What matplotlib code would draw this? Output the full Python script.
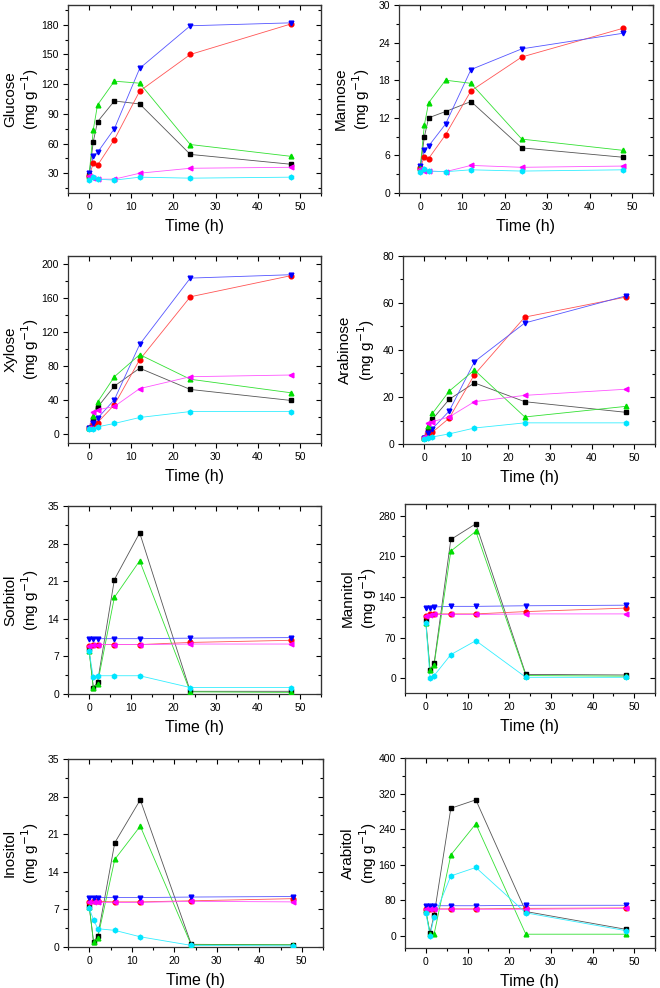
import numpy as np
import matplotlib
matplotlib.use('Agg')
import matplotlib.pyplot as plt
from matplotlib.ticker import MultipleLocator

plt.rcParams['font.family'] = ['Liberation Sans', 'DejaVu Sans']

time_h = [0, 1, 2, 6, 12, 24, 48]

# series order: black sq, red circle, blue down-tri, green up-tri, magenta left-tri, cyan hexagon
glucose = [
    [28, 62, 82, 103, 100, 49, 39],
    [27, 40, 38, 64, 113, 150, 181],
    [30, 47, 51, 75, 136, 179, 182],
    [27, 74, 99, 123, 121, 59, 47],
    [27, 25, 24, 24, 30, 35, 36],
    [23.5, 26, 24, 23, 26, 25, 26],
]
mannose = [
    [4.0, 9.0, 12.0, 13.0, 14.6, 7.2, 5.7],
    [4.0, 5.8, 5.5, 9.3, 16.3, 21.7, 26.3],
    [4.3, 6.8, 7.5, 11.0, 19.7, 23.0, 25.5],
    [4.0, 10.9, 14.4, 18.0, 17.5, 8.6, 6.8],
    [3.8, 3.5, 3.5, 3.4, 4.4, 4.1, 4.3],
    [3.4, 3.8, 3.5, 3.4, 3.7, 3.5, 3.7],
]
xylose = [
    [8, 18, 32, 57, 78, 53, 40],
    [8, 12, 14, 35, 88, 162, 187],
    [8, 13, 19, 41, 106, 184, 188],
    [8, 22, 38, 68, 94, 65, 49],
    [8, 27, 29, 33, 54, 68, 70],
    [6, 7, 9, 13, 20, 27, 27],
]
arabinose = [
    [2.5, 6.0, 10.5, 19.0, 26.0, 18.0, 13.5],
    [2.5, 4.5, 5.0, 11.0, 29.5, 54.0, 62.5],
    [2.5, 4.8, 6.5, 14.0, 35.0, 51.5, 63.0],
    [2.5, 7.5, 13.0, 22.5, 31.5, 11.5, 16.0],
    [3.0, 9.0, 9.5, 11.5, 18.0, 20.7, 23.3],
    [2.0, 2.6, 3.0, 4.3, 6.8, 9.0, 9.0],
]
sorbitol = [
    [8.3, 1.2, 2.2, 21.3, 30.0, 0.5, 0.5],
    [9.0, 9.2, 9.2, 9.2, 9.2, 9.6, 10.0],
    [10.2, 10.2, 10.3, 10.3, 10.3, 10.4, 10.5],
    [8.0, 1.2, 1.9, 18.0, 24.8, 0.4, 0.3],
    [9.0, 9.1, 9.2, 9.2, 9.2, 9.3, 9.3],
    [8.0, 3.1, 3.4, 3.4, 3.4, 1.2, 1.2],
]
mannitol = [
    [100, 15, 27, 239, 266, 7, 6],
    [108, 110, 111, 111, 111, 115, 121],
    [122, 122, 123, 124, 124, 125, 126],
    [95, 14, 24, 219, 253, 5, 4],
    [108, 109, 110, 110, 110, 111, 111],
    [96, 1, 5, 41, 65, 2, 2],
]
inositol = [
    [7.6, 1.0, 2.0, 19.4, 27.4, 0.5, 0.4],
    [8.3, 8.5, 8.5, 8.4, 8.4, 8.6, 9.0],
    [9.2, 9.2, 9.2, 9.2, 9.2, 9.3, 9.4],
    [7.5, 1.0, 1.7, 16.3, 22.5, 0.4, 0.4],
    [8.3, 8.3, 8.3, 8.3, 8.3, 8.5, 8.4],
    [7.2, 5.1, 3.4, 3.1, 1.9, 0.3, 0.2],
]
arabitol = [
    [55, 7, 48, 287, 306, 55, 15],
    [60, 61, 61, 61, 61, 62, 63],
    [67, 67, 68, 68, 68, 69, 69],
    [58, 5, 5, 182, 252, 4, 4],
    [60, 60, 60, 60, 60, 60, 62],
    [52, 1, 43, 135, 154, 52, 12],
]

colors = ['#000000', '#ff0000', '#0000ff', '#00dd00', '#ff00ff', '#00e5ff']
line_colors = ['#555555', '#ff5555', '#5555ff', '#33e033', '#ff55ff', '#33eeff']
markers = ['s', 'o', 'v', '^', '<', 'h']

# name, data, ylim, major, minor, box in pixels (left, right, top, bottom)
panels = [
    ('Glucose', glucose, (10, 200), 30, 15, (68, 321, 5, 193)),
    ('Mannose', mannose, (0, 30), 6, 3, (399, 653, 5, 193)),
    ('Xylose', xylose, (-10, 210), 40, 20, (68, 321, 256, 443)),
    ('Arabinose', arabinose, (0, 80), 20, 10, (403, 655, 256, 444)),
    ('Sorbitol', sorbitol, (0, 35), 7, 3.5, (68, 321, 506, 694)),
    ('Mannitol', mannitol, (-25, 300), 70, 35, (405, 655, 504, 693)),
    ('Inositol', inositol, (0, 35), 7, 3.5, (68, 323, 759, 947)),
    ('Arabitol', arabitol, (-27, 400), 80, 40, (405, 655, 758, 948)),
]

W, H = 660, 988
fig = plt.figure(figsize=(W / 100, H / 100), dpi=100)

for name, data, ylim, major, minor, box in panels:
    l, r, t, b = box
    ax = fig.add_axes([l / W, 1 - b / H, (r - l) / W, (b - t) / H])
    for ys, c, lc, m in zip(data, colors, line_colors, markers):
        ax.plot(time_h, ys, color=lc, lw=0.6, zorder=2)
        ax.plot(time_h, ys, ls='none', marker=m, ms=3.4, mec=c, mfc=c, zorder=3)
    ax.set_xlim(-5, 55)
    ax.set_ylim(*ylim)
    ax.xaxis.set_major_locator(MultipleLocator(10))
    ax.xaxis.set_minor_locator(MultipleLocator(5))
    ax.yaxis.set_major_locator(MultipleLocator(major))
    ax.yaxis.set_minor_locator(MultipleLocator(minor))
    ax.tick_params(which='both', direction='out', labelsize=7.5, width=0.8, pad=3)
    ax.tick_params(which='major', length=3.5)
    ax.tick_params(which='minor', length=2)
    # inward ticks on top/right
    ax2 = ax.secondary_xaxis('top')
    ax2.xaxis.set_major_locator(MultipleLocator(10))
    ax2.xaxis.set_minor_locator(MultipleLocator(5))
    ax2.tick_params(which='both', direction='in', labeltop=False, width=0.8)
    ax2.tick_params(which='major', length=3.5)
    ax2.tick_params(which='minor', length=2)
    ay2 = ax.secondary_yaxis('right')
    ay2.yaxis.set_major_locator(MultipleLocator(major))
    ay2.yaxis.set_minor_locator(MultipleLocator(minor))
    ay2.tick_params(which='both', direction='in', labelright=False, width=0.8)
    ay2.tick_params(which='major', length=3.5)
    ay2.tick_params(which='minor', length=2)
    for sp in ax.spines.values():
        sp.set_linewidth(0.9)
        sp.set_color('#333333')
    ax.set_xlabel('Time (h)', fontsize=11.5, labelpad=5)
    ax.set_ylabel(name + '\n(mg g$^{-1}$)', fontsize=11, linespacing=1.15)
    ax.yaxis.set_label_coords(-0.105, 0.5)

fig.savefig('out.png', dpi=100)
